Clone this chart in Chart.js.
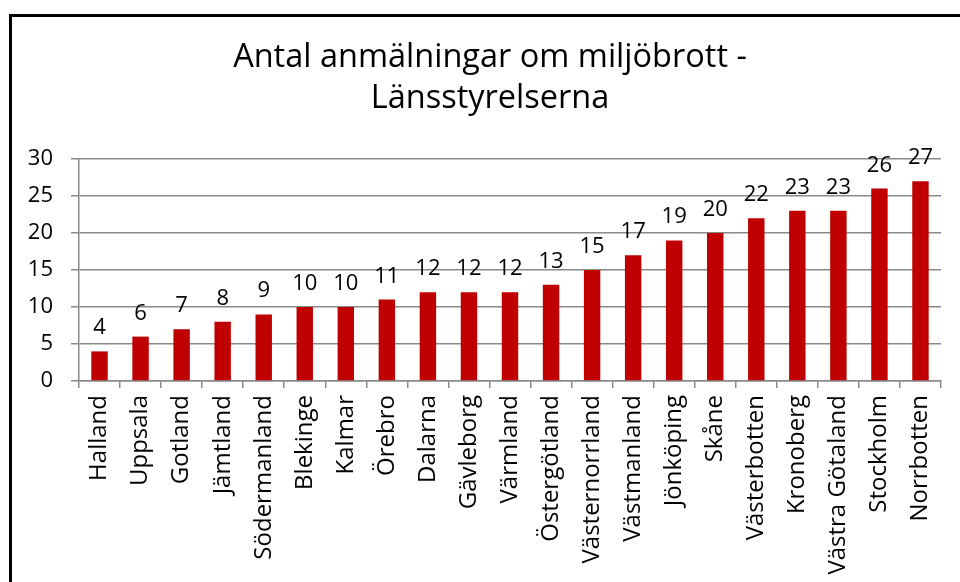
<!DOCTYPE html>
<html>
<head>
<meta charset="utf-8">
<script src="https://cdn.jsdelivr.net/npm/chart.js@4"></script>
<style>
html,body{margin:0;padding:0;background:#fff}
#wrap{width:960px;height:582px;position:relative}
</style>
</head>
<body>
<div id="wrap"><canvas id="c" width="960" height="582"></canvas></div>
<script>
'use strict';

/* ═══════════ DATA ═══════════ */
var lans=['Halland','Uppsala','Gotland','Jämtland','Södermanland','Blekinge','Kalmar','Örebro','Dalarna','Gävleborg','Värmland','Östergötland','Västernorrland','Västmanland','Jönköping','Skåne','Västerbotten','Kronoberg','Västra Götaland','Stockholm','Norrbotten'];
var antal=[4,6,7,8,9,10,10,11,12,12,12,13,15,17,19,20,22,23,23,26,27];
var titel=['Antal anmälningar om miljöbrott -','Länsstyrelserna'];
var yTicks=[0,5,10,15,20,25,30];

var FONT='"Open Sans"';
var GRID='#8a8a8a';

/* ═══════════ PLUGINS ═══════════ */
/* frame around chart object (left + top edge visible) + title centred on the whole chart object */
var frame={id:'frame',afterDraw:function(ch){var x=ch.ctx;x.save();
  x.fillStyle='#000';x.fillRect(9,14,3,568);x.fillRect(9,14,951,3);
  x.font='32.5px '+FONT;x.textAlign='center';x.textBaseline='alphabetic';
  x.fillText(titel[0],490,67);x.fillText(titel[1],490,108);
  x.restore()}};
/* value labels above bars */
var vals={id:'vals',afterDatasetsDraw:function(ch){var x=ch.ctx,m=ch.getDatasetMeta(0);x.save();
  x.font='22px '+FONT;x.fillStyle='#000';x.textAlign='center';x.textBaseline='alphabetic';
  m.data.forEach(function(el,i){x.fillText(String(antal[i]),el.x,el.y-17)});
  x.restore()}};

/* ═══════════ CHART ═══════════ */
new Chart(document.getElementById('c'),{
  type:'bar',
  data:{labels:lans,datasets:[{data:antal,backgroundColor:'#c00000',borderWidth:0,barPercentage:0.4,categoryPercentage:1}]},
  options:{responsive:false,animation:false,
    layout:{padding:{left:0,right:19,top:159,bottom:0}},
    plugins:{legend:{display:false},tooltip:{enabled:false},title:{display:false}},
    scales:{
      x:{grid:{display:true,drawOnChartArea:false,offset:true,color:GRID,lineWidth:1.5,tickLength:7},
        border:{display:true,color:GRID,width:1.5},
        ticks:{color:'#000',font:{family:FONT,size:24},maxRotation:90,minRotation:90,padding:7,autoSkip:false},
        afterFit:function(s){s.height=201}},
      y:{min:0,max:30,afterBuildTicks:function(s){s.ticks=yTicks.map(function(v){return{value:v}})},
        grid:{color:GRID,lineWidth:1.5,tickLength:8},
        border:{display:true,color:GRID,width:1.5},
        ticks:{color:'#000',font:{family:FONT,size:22},padding:18},
        afterFit:function(s){s.width=79}}
    }},
  plugins:[frame,vals]});
</script>
</body>
</html>
